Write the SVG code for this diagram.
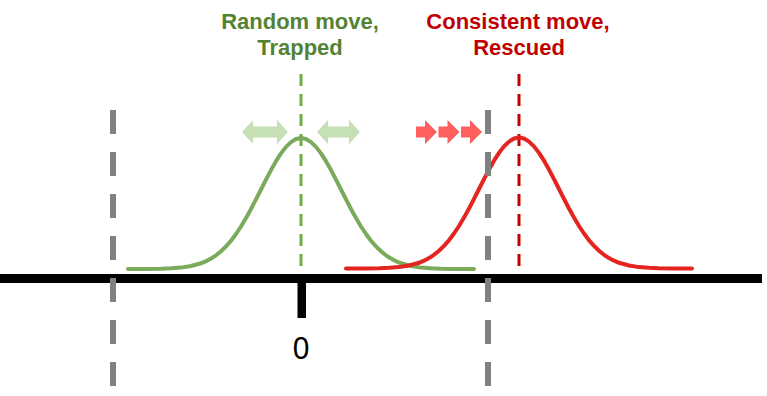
<svg xmlns="http://www.w3.org/2000/svg" xmlns:xlink="http://www.w3.org/1999/xlink" width="767" height="396" viewBox="0 0 767 396">
<style>
.title{font-family:"Liberation Sans",Arial,sans-serif;font-weight:bold;font-size:22px;text-anchor:middle}
.g{fill:#548235}
.r{fill:#C00000}
.bell{fill:none;stroke-width:4;stroke-linejoin:round;stroke-linecap:round}
.gray{stroke:#808080;stroke-width:6;stroke-dasharray:24 18}
.cdash{stroke-width:3;stroke-dasharray:12 8}
</style>
<defs>
<path id="bell" d="M-173,269 L-155,268.9 L-140,268.7 L-130,268.3 L-120,267.6 L-110,266 L-100,263.3 L-95,261.2 L-90,258.6 L-85,255.3 L-80,251.3 L-75,246.4 L-70,240.7 L-65,234 L-60,226.5 L-55,218.1 L-50,209 L-45,199.4 L-40,189.5 L-35,179.7 L-30,170.1 L-25,161.2 L-20,153.4 L-15,146.9 L-10,142.1 L-5,139 L0,138 L5,139 L10,142.1 L15,146.9 L20,153.4 L25,161.2 L30,170.1 L35,179.7 L40,189.5 L45,199.4 L50,209 L55,218.1 L60,226.5 L65,234 L70,240.7 L75,246.4 L80,251.3 L85,255.3 L90,258.6 L95,261.2 L100,263.3 L110,266 L120,267.6 L130,268.3 L140,268.7 L155,268.9 L173,269"/>
<polygon id="rarrow" points="416,126.5 425,126.5 425,120 437,132 425,144 425,137.5 416,137.5" fill="#FF5F5F"/>
</defs>
<g id="labels">
<text class="title g" x="300" y="29">Random move,</text>
<text class="title g" x="300" y="55">Trapped</text>
<text class="title r" x="518" y="29">Consistent move,</text>
<text class="title r" x="519" y="55">Rescued</text>
</g>
<g id="connectors">
<line class="cdash" x1="301" y1="74" x2="301" y2="278" stroke="#70AD47"/>
<line class="cdash" x1="519" y1="74" x2="519" y2="278" stroke="#C00000"/>
</g>
<g id="green-curve"><use xlink:href="#bell" class="bell" stroke="#7AAB5A" transform="translate(301,0)"/></g>
<g id="red-curve"><use xlink:href="#bell" class="bell" stroke="#E3241F" transform="translate(519,-0.5)"/></g>
<g id="green-arrows" fill="#C5E0B4">
<polygon points="242,132 253,120 253,126.5 277,126.5 277,120 288,132 277,144 277,137.5 253,137.5 253,144"/>
<polygon points="317,132 328,120 328,126.5 349,126.5 349,120 360,132 349,144 349,137.5 328,137.5 328,144"/>
</g>
<g id="red-arrows">
<use xlink:href="#rarrow"/>
<use xlink:href="#rarrow" transform="translate(22.5,0)"/>
<use xlink:href="#rarrow" transform="translate(45,0)"/>
</g>
<g id="axis">
<line x1="0" y1="278.5" x2="762" y2="278.5" stroke="#000" stroke-width="9"/>
<rect x="297.5" y="278" width="8.5" height="40" fill="#000"/>
<text x="301" y="359" font-family="'Noto Sans','Liberation Sans',sans-serif" font-size="30" text-anchor="middle" fill="#000">0</text>
</g>
<g id="bounds">
<line class="gray" x1="113" y1="110" x2="113" y2="386"/>
<line class="gray" x1="488" y1="110" x2="488" y2="386"/>
</g>
</svg>
